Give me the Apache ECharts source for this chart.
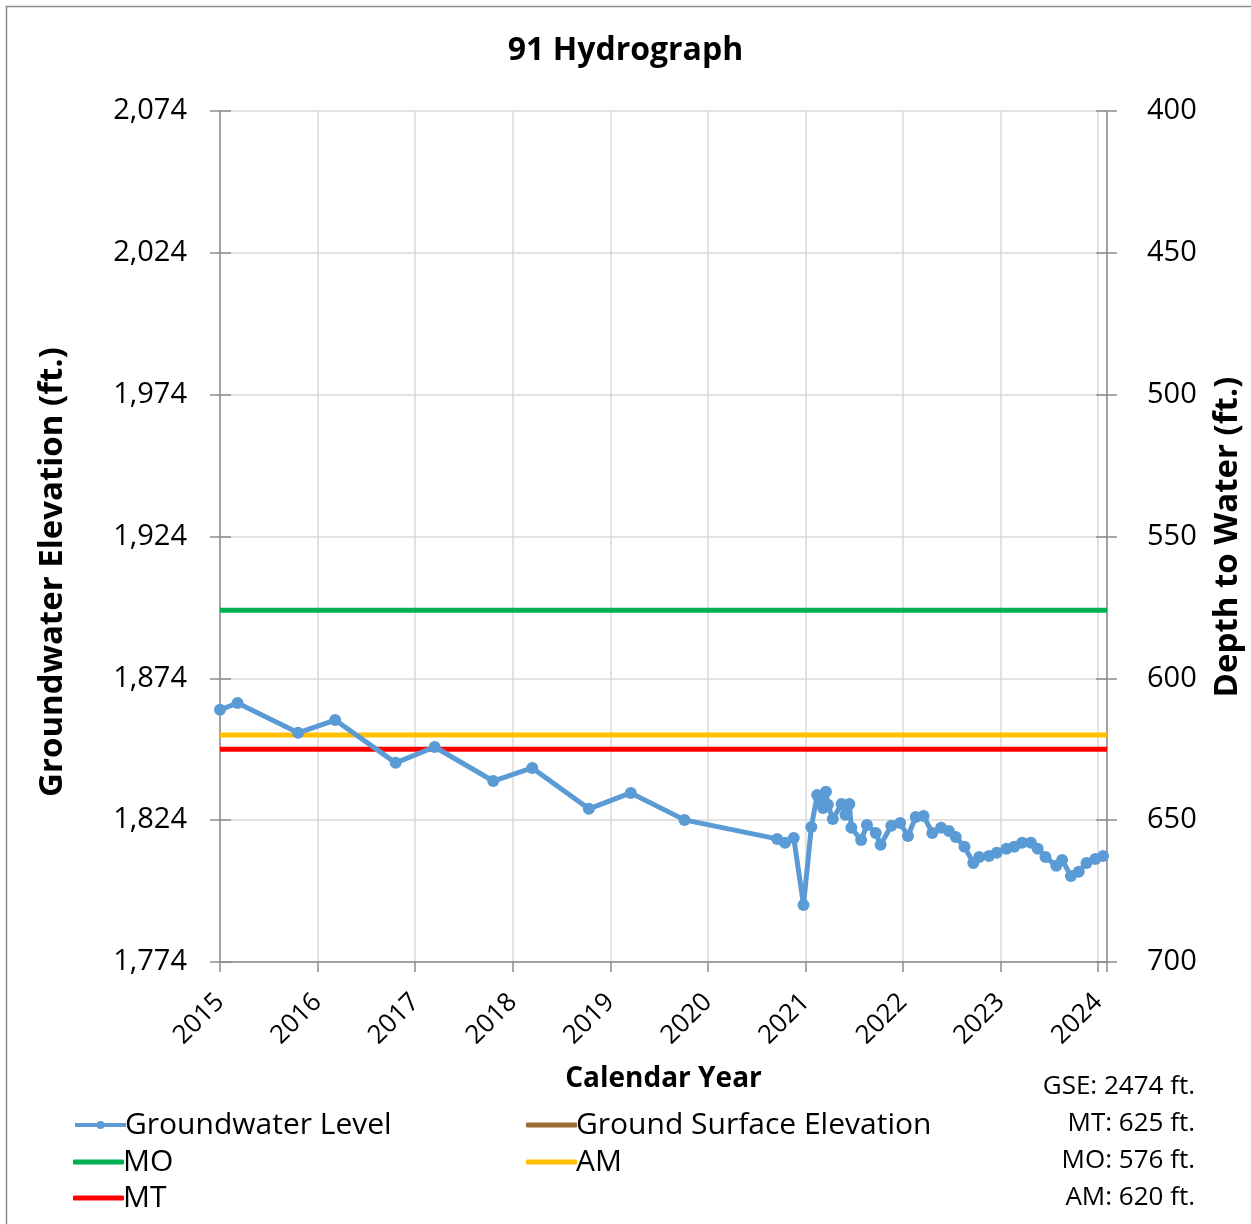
<!DOCTYPE html>
<html>
<head>
<meta charset="utf-8">
<script src="https://cdn.jsdelivr.net/npm/echarts@6/dist/echarts.min.js"></script>
<style>
html,body{margin:0;padding:0;background:#fff;}
#chart{width:1251px;height:1224px;}
</style>
</head>
<body>
<div id="chart"></div>
<script>
// ---- data ----
const title = '91 Hydrograph';
const years = [2015.00, 2015.18, 2015.80, 2016.18, 2016.80, 2017.20, 2017.80, 2018.20, 2018.78, 2019.21,
  2019.76, 2020.71, 2020.79, 2020.88, 2020.98, 2021.06, 2021.12, 2021.15, 2021.18, 2021.21,
  2021.23, 2021.28, 2021.37, 2021.41, 2021.45, 2021.47, 2021.57, 2021.63, 2021.72, 2021.77,
  2021.88, 2021.97, 2022.05, 2022.13, 2022.21, 2022.30, 2022.39, 2022.47, 2022.54, 2022.63,
  2022.72, 2022.78, 2022.88, 2022.96, 2023.06, 2023.14, 2023.22, 2023.31, 2023.38, 2023.46,
  2023.57, 2023.63, 2023.72, 2023.80, 2023.88, 2023.97, 2024.05];
const elevations = [1862.9, 1865.3, 1854.8, 1859.3, 1844.2, 1849.8, 1837.8, 1842.4, 1828.0, 1833.6,
  1824.1, 1817.4, 1816.0, 1817.7, 1794.1, 1821.6, 1832.9, 1831.1, 1828.3, 1834.0,
  1829.4, 1824.4, 1829.7, 1825.9, 1829.7, 1821.3, 1817.0, 1822.3, 1819.5, 1815.3,
  1822.0, 1823.0, 1818.4, 1825.1, 1825.5, 1819.5, 1821.3, 1820.2, 1818.1, 1814.6,
  1808.9, 1811.0, 1811.4, 1812.5, 1813.9, 1814.6, 1816.0, 1816.0, 1813.9, 1811.0,
  1807.9, 1810.0, 1804.3, 1805.8, 1808.9, 1810.3, 1811.4];
const GSE = 2474;   // ground surface elevation (ft)
const MT = 625;     // depth (ft)
const MO = 576;
const AM = 620;
const xRange = [2015, 2024.09];
const leftAxis = {min: 1774, max: 2074, interval: 50};
const rightAxis = {min: 400, max: 700, interval: 50};
const infoLabels = ['GSE: ' + GSE + ' ft.', 'MT: ' + MT + ' ft.', 'MO: ' + MO + ' ft.', 'AM: ' + AM + ' ft.'];

// ---- chart ----
const FONT = 'Open Sans';
const AXIS_GRAY = '#8c8c8c';
const chart = echarts.init(document.getElementById('chart'));
const gwData = years.map((y, i) => [y, elevations[i]]);
const hline = v => [[xRange[0], v], [xRange[1], v]];

function legendItem(name, left, top, isMarker) {
  return {
    left: left, top: top, orient: 'vertical', itemGap: 0, padding: 0,
    itemWidth: 51, itemHeight: isMarker ? 10 : 5,
    icon: isMarker ? undefined : 'roundRect',
    lineStyle: isMarker ? {width: 4} : undefined,
    data: [name],
    textStyle: {fontFamily: FONT, fontSize: 30, color: '#000', padding: [0, 0, 0, -6]}
  };
}

function tickOverlayY(axis, pos) {
  return {
    type: 'value', min: axis.min, max: axis.max, interval: axis.interval, position: pos,
    show: true,
    axisLine: {show: false}, axisLabel: {show: false}, splitLine: {show: false},
    axisTick: {show: true, inside: true, length: 11, lineStyle: {color: AXIS_GRAY, width: 1.5}}
  };
}

chart.setOption({
  animation: false,
  backgroundColor: '#fff',
  textStyle: {fontFamily: FONT},
  title: {
    text: title, left: 'center', top: 30,
    textStyle: {fontFamily: FONT, fontSize: 32, fontWeight: 'bold', color: '#000'}
  },
  grid: {left: 220, right: 144, top: 111, bottom: 262, containLabel: false},
  xAxis: {
    type: 'value', min: xRange[0], max: xRange[1], interval: 1,
    name: 'Calendar Year', nameLocation: 'middle', nameGap: 103,
    nameTextStyle: {fontFamily: FONT, fontSize: 28, fontWeight: 'bold', color: '#000'},
    axisLine: {show: true, lineStyle: {color: AXIS_GRAY, width: 1.5}},
    axisTick: {show: true, length: 10, lineStyle: {color: AXIS_GRAY, width: 1.5}},
    axisLabel: {
      rotate: 45, margin: 36, fontSize: 26, color: '#000', fontFamily: FONT,
      formatter: v => Math.abs(v - Math.round(v)) < 1e-6 ? String(Math.round(v)) : ''
    },
    splitLine: {show: true, lineStyle: {color: '#d9d9d9', width: 1.5}}
  },
  yAxis: [{
    type: 'value', min: leftAxis.min, max: leftAxis.max, interval: leftAxis.interval,
    position: 'left',
    axisLine: {show: true, lineStyle: {color: AXIS_GRAY, width: 1.5}},
    axisTick: {show: true, length: 10, lineStyle: {color: AXIS_GRAY, width: 1.5}},
    axisLabel: {
      margin: 33, fontSize: 29, color: '#000', fontFamily: FONT,
      formatter: v => v.toLocaleString('en-US')
    },
    splitLine: {show: true, lineStyle: {color: '#d9d9d9', width: 1.5}}
  }, {
    type: 'value', min: rightAxis.min, max: rightAxis.max, interval: rightAxis.interval,
    inverse: true, position: 'right',
    axisLine: {show: true, lineStyle: {color: AXIS_GRAY, width: 1.5}},
    axisTick: {show: true, length: 10, lineStyle: {color: AXIS_GRAY, width: 1.5}},
    axisLabel: {margin: 40, fontSize: 29, color: '#000', fontFamily: FONT},
    splitLine: {show: false}
  },
  tickOverlayY(leftAxis, 'left'),
  tickOverlayY(rightAxis, 'right')
  ],
  legend: [
    legendItem('Groundwater Level', 73, 1110, true),
    legendItem('MO', 73, 1147, false),
    legendItem('MT', 73, 1183, false),
    legendItem('Ground Surface Elevation', 526, 1110, false),
    legendItem('AM', 526, 1147, false)
  ],
  graphic: [
    {type: 'rect', shape: {x: 6.5, y: 6.5, width: 1250, height: 1230},
     style: {fill: 'none', stroke: AXIS_GRAY, lineWidth: 1.5}, silent: true, z: -10},
    {type: 'text', x: 53, y: 572, rotation: Math.PI / 2,
     style: {text: 'Groundwater Elevation (ft.)', fontFamily: FONT, fontSize: 33, fontWeight: 'bold',
       fill: '#000', textAlign: 'center', textVerticalAlign: 'middle'}},
    {type: 'text', x: 1228, y: 537, rotation: Math.PI / 2,
     style: {text: 'Depth to Water (ft.)', fontFamily: FONT, fontSize: 33, fontWeight: 'bold',
       fill: '#000', textAlign: 'center', textVerticalAlign: 'middle'}},
    ...infoLabels.map((t, i) => ({
      type: 'text', x: 1195, y: 1087 + i * 37,
      style: {text: t, fontFamily: FONT, fontSize: 26, fill: '#000', textAlign: 'right', textVerticalAlign: 'middle'}
    }))
  ],
  series: [{
    name: 'Groundwater Level', type: 'line', yAxisIndex: 0, data: gwData,
    color: '#5b9bd5', lineStyle: {width: 5, color: '#5b9bd5'},
    symbol: 'circle', symbolSize: 12, itemStyle: {color: '#5b9bd5'}, z: 5
  }, {
    name: 'Ground Surface Elevation', type: 'line', yAxisIndex: 0, data: hline(GSE),
    color: '#9c6a35', lineStyle: {width: 5, color: '#9c6a35'}, symbol: 'none', clip: true
  }, {
    name: 'MO', type: 'line', yAxisIndex: 0, data: hline(GSE - MO),
    color: '#00b050', lineStyle: {width: 5, color: '#00b050'}, symbol: 'none'
  }, {
    name: 'AM', type: 'line', yAxisIndex: 0, data: hline(GSE - AM),
    color: '#ffc000', lineStyle: {width: 5, color: '#ffc000'}, symbol: 'none'
  }, {
    name: 'MT', type: 'line', yAxisIndex: 0, data: hline(GSE - MT),
    color: '#ff0000', lineStyle: {width: 5, color: '#ff0000'}, symbol: 'none'
  }]
});
</script>
</body>
</html>
